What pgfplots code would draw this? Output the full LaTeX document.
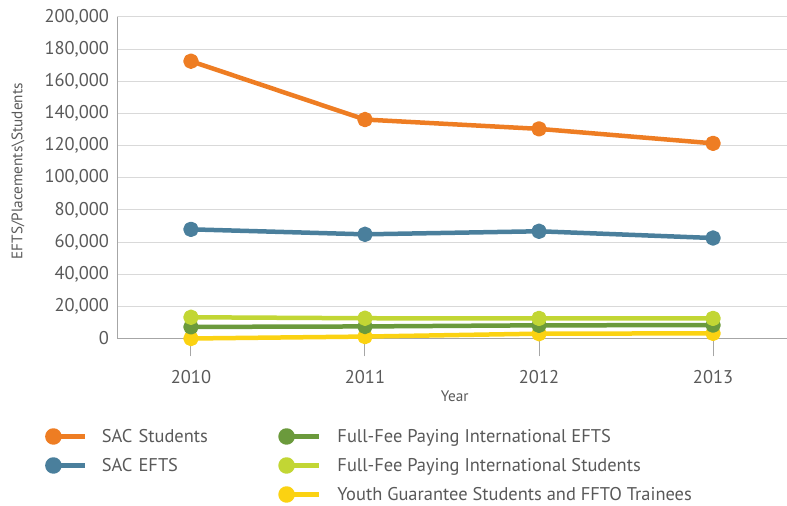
\documentclass[border=0pt]{standalone}
\usepackage{fontspec}
\setmainfont{PT Sans}
\usepackage{pgfplots}
\pgfplotsset{compat=1.18}
\definecolor{cOrange}{HTML}{EE7D23}
\definecolor{cBlue}{HTML}{4A7F9C}
\definecolor{cDGreen}{HTML}{6B9A3C}
\definecolor{cLGreen}{HTML}{C2D634}
\definecolor{cYellow}{HTML}{FBD212}
\definecolor{cGrid}{HTML}{D9D9D9}
\definecolor{cAxis}{HTML}{A6A6A6}
\definecolor{cText}{HTML}{595959}
\begin{document}
\begin{tikzpicture}[x=1bp,y=1bp]
\useasboundingbox (0,0) rectangle (787,506);
\begin{axis}[
  at={(117bp,167.5bp)}, anchor=south west,
  scale only axis, width=670bp, height=321.5bp,
  xmin=2009.575, xmax=2013.425,
  ymin=0, ymax=200000,
  xtick={2010,2011,2012,2013},
  xticklabels={2010,2011,2012,2013},
  ytick={0,20000,...,200000},
  scaled y ticks=false,
  yticklabel={\pgfmathprintnumber[fixed,1000 sep={,}]{\tick}},
  /pgf/number format/assume math mode=true,
  axis x line=bottom, axis y line=left,
  axis line style={cAxis, line width=1bp, -},
  ymajorgrids, grid style={cGrid, line width=1bp},
  xtick align=outside, major tick length=18bp,
  xtick style={cAxis, line width=1bp},
  ytick style={draw=none},
  tick label style={font=\fontsize{18.5}{21}\selectfont, text=cText},
  yticklabel style={xshift=4.5bp},
  xticklabel style={yshift=-10bp},
  xlabel={Year}, ylabel={EFTS/Placements\textbackslash Students},
  label style={font=\fontsize{15.3}{18}\selectfont, text=cText},
  xlabel style={at={(axis description cs:0.504,-0.18)}, anchor=center},
  ylabel style={at={(axis description cs:-0.1478,0.52)}, anchor=center},
  clip=false,
  every axis plot/.append style={line width=4.5bp, mark=*, mark size=5.5bp, line join=round},
  legend columns=2,
  legend cell align=left,
  legend style={at={(-0.1075,-0.2785)}, anchor=north west, draw=none, fill=none,
    font=\fontsize{18.5}{21}\selectfont, text=cText,
    column sep=0pt, row sep=12.5bp,
    nodes={inner sep=0pt},
    /tikz/column 1/.style={column sep=14bp},
    /tikz/column 2/.style={text width=176.5bp},
    /tikz/column 3/.style={column sep=16.5bp},
    inner sep=0pt},
  legend image code/.code={
    \draw[line width=4.8bp,#1] (5bp,0bp) -- (38bp,0bp);
    \fill[#1] (6bp,0bp) circle (6bp);
  },
]
\addplot[cYellow, forget plot] coordinates {(2010,0) (2011,1200) (2012,3000) (2013,3200)};
\addplot[cDGreen, forget plot] coordinates {(2010,7200) (2011,7500) (2012,8200) (2013,8300)};
\addplot[cLGreen, forget plot] coordinates {(2010,13200) (2011,12600) (2012,12500) (2013,12500)};
\addplot[cBlue, forget plot] coordinates {(2010,67900) (2011,64800) (2012,66700) (2013,62500)};
\addplot[cOrange, forget plot] coordinates {(2010,172500) (2011,136200) (2012,130400) (2013,121400)};
\addlegendimage{cOrange}\addlegendentry{SAC Students}
\addlegendimage{cDGreen}\addlegendentry{Full-Fee Paying International EFTS}
\addlegendimage{cBlue}\addlegendentry{SAC EFTS}
\addlegendimage{cLGreen}\addlegendentry{Full-Fee Paying International Students}
\addlegendimage{empty legend}\addlegendentry{}
\addlegendimage{cYellow}\addlegendentry{Youth Guarantee Students and FFTO Trainees}
\end{axis}
\end{tikzpicture}
\end{document}
